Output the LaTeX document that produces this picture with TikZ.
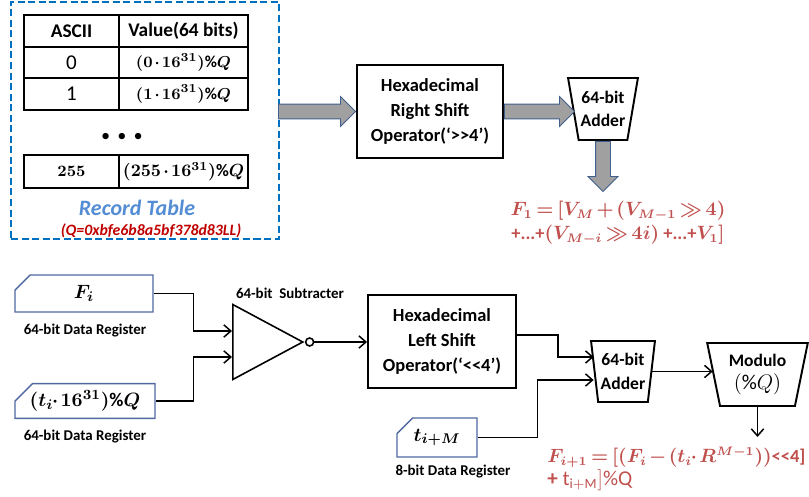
\documentclass[tikz,border=0pt]{standalone}
\usepackage{fontspec}
\setmainfont{Carlito}
\usepackage{amsmath, amssymb}
\usepackage{xcolor}
\usetikzlibrary{calc, positioning, shapes.geometric, shapes.misc, shapes.arrows, arrows.meta}

\definecolor{tblue}{RGB}{0,112,192}
\definecolor{recblue}{RGB}{84,141,212}
\definecolor{qred}{RGB}{192,0,0}
\definecolor{fred}{RGB}{192,80,77}
\definecolor{arrgray}{RGB}{160,160,160}
\definecolor{arredge}{RGB}{65,95,140}
\definecolor{regblue}{RGB}{79,105,160}

\newcommand{\tightmath}{\medmuskip=2mu\thickmuskip=3mu\boldmath}

\tikzset{
  cell/.style={draw, line width=1.1pt, minimum height=0.63cm, inner sep=0pt,
    font=\bfseries\fontsize{11}{13}\selectfont},
  opbox/.style={draw, line width=1.1pt, align=center, minimum width=2.92cm,
    minimum height=1.86cm, font=\bfseries\fontsize{10.5}{14.5}\selectfont},
  adder/.style={draw, trapezium, shape border rotate=180, trapezium stretches=true,
    line width=1.1pt, align=center, inner sep=0pt,
    font=\bfseries\fontsize{10}{13.5}\selectfont},
  reg/.style={chamfered rectangle, chamfered rectangle corners=north west,
    chamfered rectangle xsep=0.36cm, chamfered rectangle ysep=0.14cm,
    draw=regblue, line width=0.8pt, inner sep=0pt, font=\boldmath\fontsize{11}{13}\selectfont},
  reglabel/.style={font=\bfseries\fontsize{8.5}{10}\selectfont},
  fatarrow/.style={single arrow, fill=arrgray, draw=arredge, line width=0.5pt,
    inner sep=0.14cm, single arrow head extend=0.15cm, single arrow head indent=0pt},
  wire/.style={->, line width=0.85pt}
}

\begin{document}
\begin{tikzpicture}[x=0.02cm, y=-0.02cm, >={Straight Barb[length=4pt, width=7pt]}]
    \useasboundingbox (0,0) rectangle (809,497);

    % Record Table oben links
    \node[draw=tblue, dash pattern=on 4pt off 2pt, line width=0.8pt,
      minimum width=5.36cm, minimum height=4.74cm, inner sep=0pt] (rec) at (145,120.5) {};
    \node[cell, minimum width=1.9cm] (h1) at (71.5,31) {ASCII};
    \node[cell, minimum width=2.58cm] (h2) at (183.5,31) {Value(64 bits)};
    \foreach \v/\y in {0/62.5, 1/94} {
        \node[cell, minimum width=1.9cm, font=\fontsize{12}{14}\selectfont] (a\v) at (71.5,\y) {\v};
        \node[cell, minimum width=2.58cm, font=\tightmath\fontsize{9.5}{12}\selectfont] (b\v) at (183.5,\y) {$(\v\cdot 16^{31})\%Q$};
    }
    \node[font=\small] (dots) at (122,137) {$\bullet\;\bullet\;\bullet$};
    \node[cell, minimum width=1.9cm, minimum height=0.66cm, font=\boldmath\fontsize{9}{11}\selectfont] (a255) at (71.5,171.5) {$255$};
    \node[cell, minimum width=2.58cm, minimum height=0.66cm, font=\tightmath\fontsize{10}{12}\selectfont] (b255) at (183.5,171.5) {$(255\cdot 16^{31})\%Q$};
    \node[font=\bfseries\itshape\fontsize{12.5}{14}\selectfont, text=recblue] (rtitle) at (137,208) {Record Table};
    \node[font=\bfseries\itshape\fontsize{9}{10}\selectfont, text=qred] (qval) at (151,231) {(Q=0xbfe6b8a5bf378d83LL)};

    % Rechtsshift und Addierer
    \node[opbox] (rshift) at (430,111.5) {Hexadecimal\\Right Shift\\Operator(‘>{}>4’)};
    \node[adder, minimum width=1.4cm, minimum height=1.24cm,
      trapezium left angle=75, trapezium right angle=75] (add1) at (603,109) {64-bit\\Adder};
    \node[fatarrow, minimum height=1.54cm, anchor=tip] (farr1) at (rshift.west) {};
    \node[fatarrow, minimum height=1.4cm, anchor=tail] (farr2) at (rshift.east) {};
    \node[fatarrow, shape border rotate=270, minimum height=1.0cm, anchor=tail] (farr3) at (add1.south) {};
    \node[text=fred, align=center, font=\tightmath\fontsize{10.5}{13.6}\selectfont] (f1) at (618,223)
      {$F_1 = [V_M + (V_{M-1}\gg 4)$\\ \textbf{+...+}$(V_{M-i}\gg 4i)$ \textbf{+...+}$V_1]$};

    % Register und Subtrahierer
    \node[reg, minimum width=2.76cm, minimum height=0.74cm] (regF) at (84,293.5) {$F_i$};
    \node[reglabel] (labF) at (85,331) {64-bit Data Register};
    \node[reg, minimum width=2.8cm, minimum height=0.64cm, font=\tightmath\fontsize{11}{13}\selectfont] (regT) at (85,401) {$(t_i\!\cdot 16^{31})\%Q$};
    \node[reglabel] (labT) at (85,437) {64-bit Data Register};
    \node[isosceles triangle, isosceles triangle stretches, draw, line width=0.9pt,
      minimum width=1.5cm, minimum height=1.4cm, inner sep=0pt, anchor=west] (sub) at (232,342) {};
    \node[circle, draw, line width=0.9pt, minimum size=0.16cm, inner sep=0pt, anchor=west] (bub) at (sub.apex) {};
    \node[reglabel] (labS) at (290,293) {64-bit\ \ Subtracter};

    % Linksshift, Addierer, Modulo
    \node[opbox, minimum width=2.96cm] (lshift) at (442,341.5) {Hexadecimal\\Left Shift\\Operator(‘<{}<4’)};
    \node[adder, minimum width=1.28cm, minimum height=1.22cm,
      trapezium left angle=80, trapezium right angle=80] (add2) at (623,371.5) {64-bit\\Adder};
    \node[adder, minimum width=2.02cm, minimum height=1.26cm,
      trapezium left angle=76.6, trapezium right angle=76.6] (mod) at (757.5,374.5)
      {Modulo\\{\mdseries\fontsize{12}{14}\selectfont$(\%Q)$}};
    \node[reg, minimum width=1.6cm, minimum height=0.78cm] (regM) at (437,437.5) {$t_{i+M}$};
    \node[reglabel] (labM) at (453,472) {8-bit Data Register};
    \node[text=fred, align=left, anchor=north west, inner sep=0pt,
      font=\fontsize{10.5}{13}\selectfont] (f2) at (547,447)
      {{\tightmath$F_{i+1} = [(F_i - (t_i\!\cdot R^{M-1}))$}\textbf{<{}<4]}\\
       {\fontsize{12}{13}\selectfont\textbf{+} $\mathrm{t}_{\mathrm{i+M}}]\%\mathrm{Q}$}};
    \coordinate (modout) at (758,437);

    % Verbindungen
    \draw[wire] (regF.east) -- ++(40,0) |- ($(sub.west)+(0,-11)$);
    \draw[wire] (regT.east) -- ++(38,0) |- ($(sub.west)+(0,15)$);
    \draw[wire] (bub.east) -- (bub.east -| lshift.west);
    \draw[wire] ($(lshift.east)+(0,-6.5)$) -- ++(41,0) |- ($(add2.west)+(0,-14.5)$);
    \draw[wire] (regM.east) -- ++(60,0) |- ($(add2.west)+(0,8.5)$);
    \draw[wire] (add2.east) -- (add2.east -| mod.west);
    \draw[wire] (mod.south) -- (mod.south |- modout);
\end{tikzpicture}
\end{document}
